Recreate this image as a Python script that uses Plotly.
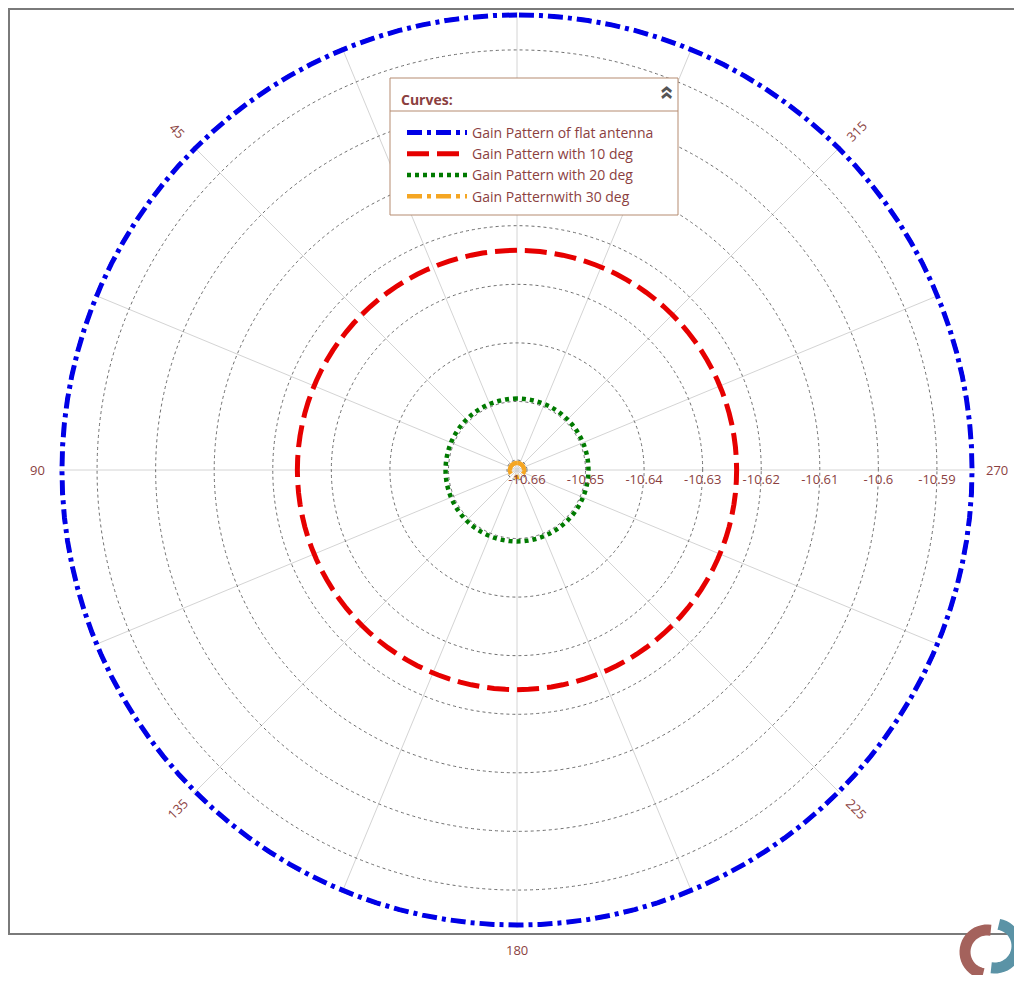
import math
import plotly.graph_objects as go

# ---------------- data ----------------
theta_deg = list(range(0, 361, 3))
series_names = [
    "Gain Pattern of flat antenna",
    "Gain Pattern with 10 deg",
    "Gain Pattern with 20 deg",
    "Gain Patternwith 30 deg",
]
gain_flat = [-10.584] * len(theta_deg)
gain_10 = [-10.6242] * len(theta_deg)
gain_20 = [-10.6495] * len(theta_deg)
gain_30 = [-10.6605] * len(theta_deg)

radial_ticks = [-10.66, -10.65, -10.64, -10.63, -10.62, -10.61, -10.6, -10.59]
radial_ticktext = ["-10.66", "-10.65", "-10.64", "-10.63", "-10.62", "-10.61", "-10.6", "-10.59"]
angular_grid = [0, 22.5, 45, 67.5, 90, 112.5, 135, 157.5, 180, 202.5, 225, 247.5, 270, 292.5, 315, 337.5]
angular_labels = [45, 90, 135, 180, 225, 270, 315]

# ---------------- style ----------------
OFF = 8                      # page body margin
W, H = 1022 - 2 * OFF, 983 - 2 * OFF
TXT = "#8b3f3f"
FONT = "Open Sans"
colors = ["#0000e6", "#e60000", "#007a00", "#f5a623"]
dashes = ["15px,5px,4px,5px", "22px,8px", "4px,4px", "15px,5px,4px,5px"]
widths = [5, 5, 4.5, 4.5]


def px(x):
    return (x - OFF) / W


def py(y):
    return (H - (y - OFF)) / H


cx_px, cy_px, R_px = 517, 470, 458
dom_x = [px(cx_px - R_px), px(cx_px + R_px)]
dom_y = [py(cy_px + R_px), py(cy_px - R_px)]

fig = go.Figure()
for name, vals, c, d, w in zip(series_names, [gain_flat, gain_10, gain_20, gain_30], colors, dashes, widths):
    fig.add_trace(go.Scatterpolar(
        r=vals, theta=theta_deg, mode="lines", name=name,
        line=dict(color=c, width=w, dash=d),
    ))

# angular tick labels, rotated as in the reference
label_rot = {45: 45, 90: 0, 135: -45, 180: 0, 225: 45, 270: 0, 315: -45}
label_dist = 480
annotations = []
for t in angular_labels:
    a = math.radians(90 + t)
    annotations.append(dict(
        x=px(cx_px + label_dist * math.cos(a)), y=py(cy_px - label_dist * math.sin(a)),
        xref="paper", yref="paper", text=str(t), showarrow=False,
        textangle=label_rot[t], font=dict(family=FONT, size=13, color=TXT),
        xanchor="center", yanchor="middle",
    ))

# legend box (drawn manually), title and collapse chevron
leg_x0, leg_x1, leg_y0, leg_y1 = 390, 678, 78, 215
annotations.append(dict(
    x=px(399), y=py(99), xref="paper", yref="paper", text="<b>Curves:</b>",
    showarrow=False, xanchor="left", yanchor="middle",
    font=dict(family=FONT, size=14, color=TXT),
))
annotations.append(dict(
    x=px(leg_x1 - 15), y=py(93), xref="paper", yref="paper",
    text="<b>»</b>", textangle=-90, showarrow=False,
    font=dict(family=FONT, size=24, color="#555555"),
    xanchor="center", yanchor="middle",
))


# small logo at bottom right
def arc_path(cx, cy, r, a0, a1, n=24):
    pts = []
    for i in range(n + 1):
        a = math.radians(a0 + (a1 - a0) * i / n)
        pts.append((px(cx + r * math.cos(a)), py(cy - r * math.sin(a))))
    return "M " + " L ".join(f"{x:.5f},{y:.5f}" for x, y in pts)


shapes = [
    # outer frame (right side runs off the page)
    dict(type="rect", xref="paper", yref="paper",
         x0=px(9), x1=1.3, y0=py(934), y1=py(9),
         line=dict(color="#7a7a7a", width=2), layer="below"),
    # legend box
    dict(type="rect", xref="paper", yref="paper",
         x0=px(leg_x0), x1=px(leg_x1), y0=py(leg_y1), y1=py(leg_y0),
         line=dict(color="#b58b70", width=1), fillcolor="white", layer="above"),
    # legend title separator
    dict(type="line", xref="paper", yref="paper",
         x0=px(leg_x0), x1=px(leg_x1), y0=py(111), y1=py(111),
         line=dict(color="#b58b70", width=1), layer="above"),
    # logo arcs
    dict(type="path", xref="paper", yref="paper", path=arc_path(987, 952, 22, 80, 260),
         line=dict(color="#a4625c", width=11), layer="above"),
    dict(type="path", xref="paper", yref="paper", path=arc_path(995, 946, 22, 260, 440),
         line=dict(color="#5b93a6", width=11), layer="above"),
]

fig.update_layout(
    width=W, height=H,
    margin=dict(l=0, r=0, t=0, b=0),
    paper_bgcolor="white",
    font=dict(family=FONT, size=13, color=TXT),
    showlegend=True,
    legend=dict(
        x=px(402), y=py(117), xanchor="left", yanchor="top",
        bgcolor="rgba(0,0,0,0)", borderwidth=0,
        font=dict(family=FONT, size=14, color=TXT),
        itemwidth=60, tracegroupgap=0,
    ),
    polar=dict(
        domain=dict(x=dom_x, y=dom_y),
        bgcolor="white",
        angularaxis=dict(
            rotation=90, direction="counterclockwise",
            tickmode="array", tickvals=angular_grid, showticklabels=False,
            ticks="", showline=False,
            gridcolor="#d4d4d4", gridwidth=1,
        ),
        radialaxis=dict(
            range=[-10.6617, -10.5835],
            tickmode="array", tickvals=radial_ticks, ticktext=radial_ticktext,
            angle=0, side="clockwise", showline=False, ticks="",
            gridcolor="#6e6e6e", gridwidth=1, griddash="dot",
            tickfont=dict(family=FONT, size=13, color=TXT),
        ),
    ),
    annotations=annotations,
    shapes=shapes,
)

fig.write_html("out.html")
